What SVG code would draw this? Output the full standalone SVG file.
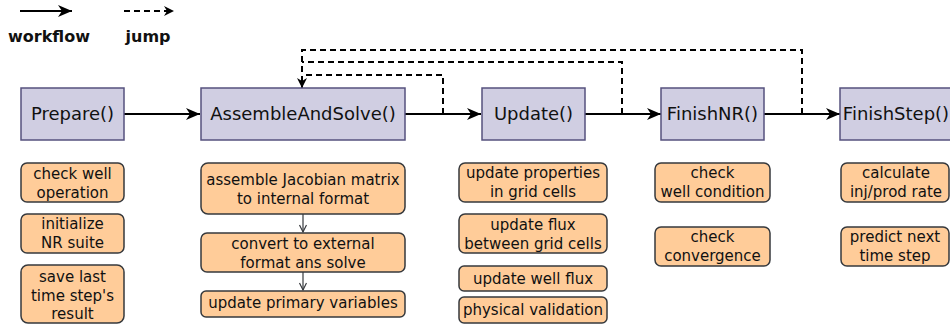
<svg xmlns="http://www.w3.org/2000/svg" width="950" height="331" viewBox="0 0 950 331">
  <style>
    text { font-family: "DejaVu Sans", Verdana, sans-serif; fill: #111; }
    .fn rect { fill: #d0cee2; stroke: #56517e; stroke-width: 1.5; }
    .fn text { font-size: 18px; text-anchor: middle; }
    .task rect { fill: #ffcc99; stroke: #36393d; stroke-width: 1.5; }
    .task text { font-size: 15px; text-anchor: middle; }
    .flow { fill: none; stroke: #000; stroke-width: 2; }
    .jump { fill: none; stroke: #000; stroke-width: 2; stroke-dasharray: 6 4; }
    .sub { fill: none; stroke: #36393d; stroke-width: 1.2; }
    .legend { font-size: 16px; font-weight: bold; text-anchor: middle; }
  </style>
  <defs>
    <marker id="head" markerUnits="userSpaceOnUse" markerWidth="16" markerHeight="12" refX="14" refY="6" orient="auto">
      <path d="M0,0 L14,6 L0,12 L4,6 Z" fill="#000"/>
    </marker>
    <marker id="headSmall" markerUnits="userSpaceOnUse" markerWidth="12" markerHeight="10" refX="10" refY="5" orient="auto">
      <path d="M0,0 L10,5 L0,10 L3,5 Z" fill="#000"/>
    </marker>
    <marker id="vee" markerUnits="userSpaceOnUse" markerWidth="10" markerHeight="10" refX="8" refY="4" orient="auto">
      <path d="M1,0.5 L8,4 L1,7.5" fill="none" stroke="#36393d" stroke-width="1.2"/>
    </marker>
  </defs>

  <!-- legend -->
  <g id="legend">
    <path class="flow" d="M20,11 L72,11" stroke-width="2.6" marker-end="url(#head)"/>
    <text class="legend" x="49" y="42">workflow</text>
    <path class="jump" d="M124,11 L174,11" stroke-width="1.8" marker-end="url(#headSmall)"/>
    <text class="legend" x="148" y="42">jump</text>
  </g>

  <!-- workflow and jump connectors -->
  <g id="connectors">
    <path class="flow" d="M124,114 L200,114" marker-end="url(#head)"/>
    <path class="flow" d="M405,114 L481,114" marker-end="url(#head)"/>
    <path class="flow" d="M585,114 L661,114" marker-end="url(#head)"/>
    <path class="flow" d="M764,114 L840,114" marker-end="url(#head)"/>
    <path class="jump" d="M443,114 L443,75 L302,75"/>
    <path class="jump" d="M622,114 L622,62 L302,62"/>
    <path class="jump" d="M802,114 L802,50 L302,50 L302,88" marker-end="url(#headSmall)"/>
    <path class="sub" d="M303,214 L303,232" marker-end="url(#vee)"/>
    <path class="sub" d="M303,272 L303,290" marker-end="url(#vee)"/>
  </g>

  <!-- main steps -->
  <g id="prepare" class="fn">
    <rect x="21" y="88" width="103" height="52"/>
    <text x="72.5" y="120">Prepare()</text>
  </g>
  <g id="assemble-and-solve" class="fn">
    <rect x="201" y="88" width="204" height="52"/>
    <text x="303" y="120">AssembleAndSolve()</text>
  </g>
  <g id="update" class="fn">
    <rect x="482" y="88" width="103" height="52"/>
    <text x="533.5" y="120">Update()</text>
  </g>
  <g id="finish-nr" class="fn">
    <rect x="661" y="88" width="103" height="52"/>
    <text x="712.5" y="120">FinishNR()</text>
  </g>
  <g id="finish-step" class="fn">
    <rect x="840" y="88" width="114" height="52"/>
    <text x="896" y="120">FinishStep()</text>
  </g>

  <!-- Prepare() tasks -->
  <g id="check-well-operation" class="task">
    <rect x="21" y="163" width="103" height="39" rx="6"/>
    <text x="72.5" y="178.5">check well</text>
    <text x="72.5" y="197.5">operation</text>
  </g>
  <g id="initialize-nr-suite" class="task">
    <rect x="21" y="214" width="103" height="39" rx="6"/>
    <text x="72.5" y="229">initialize</text>
    <text x="72.5" y="248">NR suite</text>
  </g>
  <g id="save-last-step" class="task">
    <rect x="21" y="265" width="103" height="58" rx="7"/>
    <text x="72.5" y="282">save last</text>
    <text x="72.5" y="300.5">time step's</text>
    <text x="72.5" y="319">result</text>
  </g>

  <!-- AssembleAndSolve() tasks -->
  <g id="assemble-jacobian" class="task">
    <rect x="201" y="163" width="204" height="51" rx="7"/>
    <text x="303" y="184.5">assemble Jacobian matrix</text>
    <text x="303" y="203.5">to internal format</text>
  </g>
  <g id="convert-and-solve" class="task">
    <rect x="201" y="233" width="204" height="39" rx="6"/>
    <text x="303" y="248.5">convert to external</text>
    <text x="303" y="268">format ans solve</text>
  </g>
  <g id="update-primary-variables" class="task">
    <rect x="201" y="291" width="204" height="26" rx="5"/>
    <text x="303" y="308">update primary variables</text>
  </g>

  <!-- Update() tasks -->
  <g id="update-properties" class="task">
    <rect x="459" y="163" width="148" height="39" rx="6"/>
    <text x="533" y="178">update properties</text>
    <text x="533" y="197">in grid cells</text>
  </g>
  <g id="update-flux" class="task">
    <rect x="459" y="214" width="148" height="39" rx="6"/>
    <text x="533" y="229.5">update flux</text>
    <text x="533" y="248.5">between grid cells</text>
  </g>
  <g id="update-well-flux" class="task">
    <rect x="459" y="266" width="148" height="25" rx="5"/>
    <text x="533" y="283.5">update well flux</text>
  </g>
  <g id="physical-validation" class="task">
    <rect x="459" y="297" width="148" height="26" rx="5"/>
    <text x="533" y="315">physical validation</text>
  </g>

  <!-- FinishNR() tasks -->
  <g id="check-well-condition" class="task">
    <rect x="655" y="163" width="115" height="39" rx="6"/>
    <text x="712.5" y="178">check</text>
    <text x="712.5" y="197">well condition</text>
  </g>
  <g id="check-convergence" class="task">
    <rect x="655" y="227" width="115" height="39" rx="6"/>
    <text x="712.5" y="242">check</text>
    <text x="712.5" y="261">convergence</text>
  </g>

  <!-- FinishStep() tasks -->
  <g id="calculate-rate" class="task">
    <rect x="841" y="163" width="108" height="39" rx="6"/>
    <text x="896" y="178">calculate</text>
    <text x="896" y="197">inj/prod rate</text>
  </g>
  <g id="predict-next-step" class="task">
    <rect x="841" y="227" width="108" height="39" rx="6"/>
    <text x="895" y="242">predict next</text>
    <text x="895" y="261">time step</text>
  </g>
</svg>
